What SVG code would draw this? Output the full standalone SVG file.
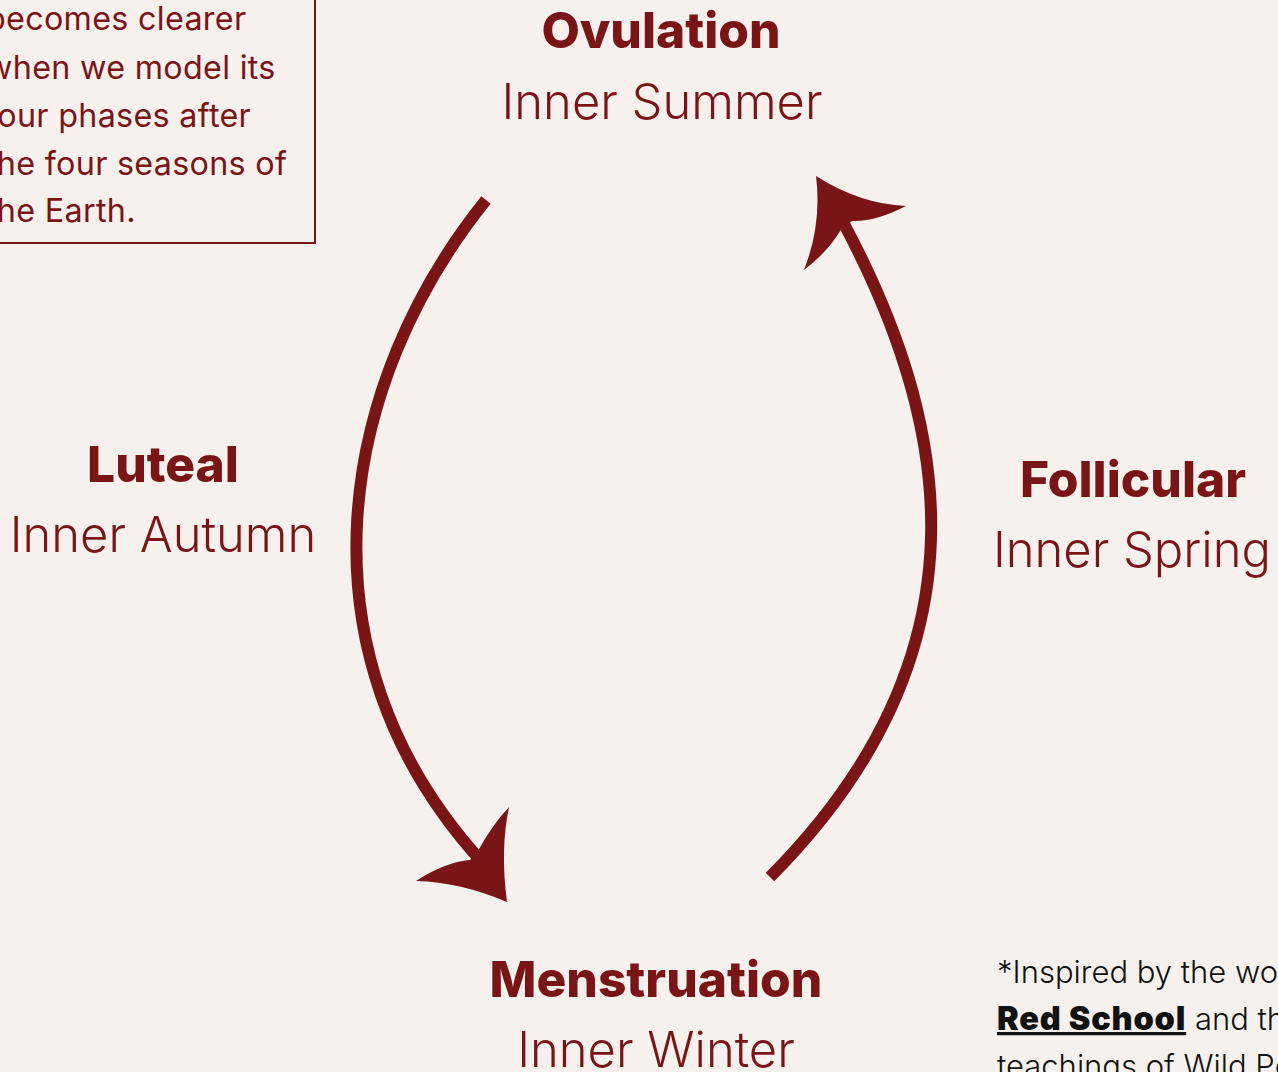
<svg xmlns="http://www.w3.org/2000/svg" width="1278" height="1072" viewBox="0 0 1278 1072">
<style>
.bg{fill:#f6f1ed}
.title{font-family:Inter,"Liberation Sans",sans-serif;font-weight:800;font-size:49.7px;fill:#7a1517;text-anchor:middle}
.sub{font-family:Inter,"Liberation Sans",sans-serif;font-weight:300;font-size:48.9px;fill:#7a1517;text-anchor:middle}
.box{font-family:Inter,"Liberation Sans",sans-serif;font-weight:400;font-size:32.3px;letter-spacing:0.3px;fill:#7a1517}
.note{font-family:Inter,"Liberation Sans",sans-serif;font-weight:300;font-size:31px;fill:#111}
.noteb{font-weight:900;font-size:32.5px;letter-spacing:0.8px;text-decoration:underline}
.arc{fill:none;stroke:#7a1517;stroke-width:12;stroke-linecap:butt}
.head{fill:#7a1517}
</style>
<rect class="bg" x="0" y="0" width="1278" height="1072"/>
<g id="intro-box">
<rect x="-40" y="-40" width="355" height="283" fill="none" stroke="#7a1517" stroke-width="2"/>
<text class="box" x="-14" y="30">becomes clearer</text>
<text class="box" x="-14" y="79">when we model its</text>
<text class="box" x="-14" y="127">four phases after</text>
<text class="box" x="-14" y="175">the four seasons of</text>
<text class="box" x="-14" y="222">the Earth.</text>
</g>
<g id="connectors">
<path class="arc" d="M486,200 C341,380 289,650 482,862"/>
<path class="head" d="M507,902 Q460,882 416,881 Q445,862 470,860 L478,851 Q492,825 509,807 Q500,850 507,902 Z"/>
<path class="arc" d="M770,877 C996,650 949,420 843,222"/>
<path class="head" d="M816,176 Q860,204 906,206 Q875,222 852,221 L842,228 Q828,252 804,270 Q822,224 816,176 Z"/>
</g>
<g id="ovulation">
<text class="title" x="661" y="48">Ovulation</text>
<text class="sub" x="662" y="119">Inner Summer</text>
</g>
<g id="luteal">
<text class="title" x="163" y="482">Luteal</text>
<text class="sub" x="163" y="552">Inner Autumn</text>
</g>
<g id="follicular">
<text class="title" x="1133" y="497">Follicular</text>
<text class="sub" x="1132" y="567">Inner Spring</text>
</g>
<g id="menstruation">
<text class="title" x="656" y="997">Menstruation</text>
<text class="sub" x="656" y="1067">Inner Winter</text>
</g>
<g id="footnote">
<text class="note" x="997" y="983">*Inspired by the work of</text>
<text class="note" x="997" y="1030"><tspan class="noteb">Red School</tspan> and the</text>
<text class="note" x="997" y="1077">teachings of Wild Power</text>
</g>
</svg>
